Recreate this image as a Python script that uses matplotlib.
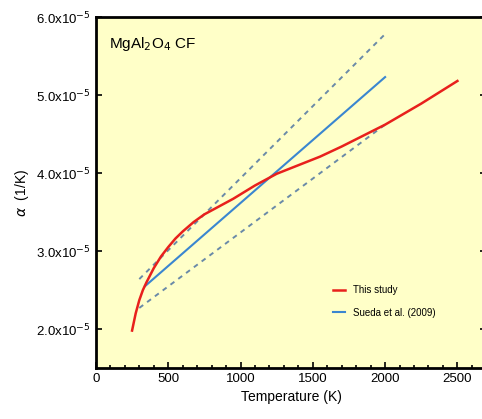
import numpy as np
import matplotlib
matplotlib.use("Agg")
import matplotlib.pyplot as plt
from matplotlib.ticker import FuncFormatter, MultipleLocator

plt.rcParams['font.family'] = ['Liberation Sans', 'DejaVu Sans']

# This study (red curve)
t_study = [250, 275, 300, 325, 350, 400, 450, 500, 550, 600, 675, 750, 850, 950,
           1100, 1250, 1400, 1550, 1700, 1850, 2000, 2250, 2500]
a_study = [1.98e-5, 2.2e-5, 2.37e-5, 2.5e-5, 2.6e-5, 2.78e-5, 2.93e-5, 3.05e-5, 3.16e-5,
           3.25e-5, 3.37e-5, 3.47e-5, 3.57e-5, 3.67e-5, 3.84e-5, 3.99e-5, 4.1e-5,
           4.21e-5, 4.34e-5, 4.48e-5, 4.62e-5, 4.89e-5, 5.18e-5]

# Sueda et al. (2009) and its bounds
t_sueda = [340, 2000]
a_sueda = [2.55e-5, 5.23e-5]
t_upper = [300, 2010]
a_upper = [2.64e-5, 5.8e-5]
t_lower = [300, 2000]
a_lower = [2.27e-5, 4.62e-5]

fig = plt.figure(figsize=(4.82, 4.19), dpi=100)
ax = fig.add_axes([0.199, 0.1217, 0.81, 0.8377])
ax.set_facecolor('#ffffc8')

ax.plot(t_upper, a_upper, color='#6a8aa8', lw=1.4, ls=(0, (2.5, 2.5)))
ax.plot(t_lower, a_lower, color='#6a8aa8', lw=1.4, ls=(0, (2.5, 2.5)))
ax.plot(t_sueda, a_sueda, color='#3a86d0', lw=1.5, label='Sueda et al. (2009)')
ax.plot(t_study, a_study, color='#e8201c', lw=1.8, label='This study')

ax.set_xlim(0, 2700)
ax.set_ylim(1.5e-5, 6.0e-5)
ax.xaxis.set_major_locator(MultipleLocator(500))
ax.xaxis.set_minor_locator(MultipleLocator(100))
ax.yaxis.set_major_locator(MultipleLocator(1e-5))


def fmt(v, pos):
    return r'%.1fx10$^{-5}$' % (v * 1e5)


ax.yaxis.set_major_formatter(FuncFormatter(fmt))
ax.tick_params(direction='in', which='both', top=False, right=True, labelsize=9.5, width=1.2)
ax.tick_params(which='major', length=4)
ax.tick_params(which='minor', length=2)
for s in ax.spines.values():
    s.set_linewidth(2)

ax.set_xlabel('Temperature (K)', fontsize=10)
ax.set_ylabel(r'$\alpha$  (1/K)', fontsize=10)
ax.text(90, 5.65e-5, r'MgAl$_2$O$_4$ CF', fontsize=11, va='center')

h, l = ax.get_legend_handles_labels()
ax.legend(h[::-1], l[::-1], loc='lower left', bbox_to_anchor=(0.585, 0.118), frameon=False,
          fontsize=7, handlelength=1.2, labelspacing=1.3)

fig.savefig('out.png', dpi=100)
